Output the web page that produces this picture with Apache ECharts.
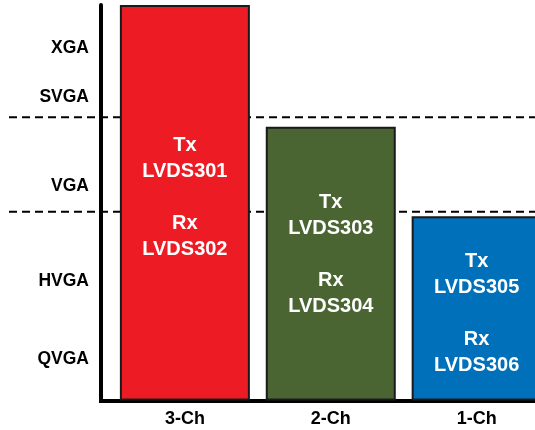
<!DOCTYPE html>
<html>
<head>
<meta charset="utf-8">
<script src="https://cdn.jsdelivr.net/npm/echarts@6/dist/echarts.min.js"></script>
<style>
html,body{margin:0;padding:0;background:#fff;}
#chart{width:535px;height:430px;}
</style>
</head>
<body>
<div id="chart"></div>
<script>
// ---- data ----
const categories = ['3-Ch', '2-Ch', '1-Ch'];
const barHeights = [100, 69.2, 46.6];
const txParts = ['LVDS301', 'LVDS303', 'LVDS305'];
const rxParts = ['LVDS302', 'LVDS304', 'LVDS306'];
const resolutionLabels = ['QVGA', 'HVGA', 'VGA', 'SVGA', 'XGA'];
const resolutionLevels = [10.5, 30.1, 54.1, 76.6, 89.0];
const dashedLevels = [71.6, 47.7];

// ---- styles ----
const barColors = ['#ED1C24', '#4A6532', '#0070BA'];
const labelShift = [-5, -9, 5];
const FONT = '"Liberation Sans", Arial, Helvetica, sans-serif';

const chart = echarts.init(document.getElementById('chart'), null, {renderer: 'canvas'});

const dashedSeries = dashedLevels.map(lvl => ({
  type: 'line',
  xAxisIndex: 0,
  yAxisIndex: 0,
  data: [[0, lvl], [1, lvl]],
  symbol: 'none',
  silent: true,
  z: 1,
  lineStyle: {color: '#000', width: 2, type: [8, 5]}
}));

const option = {
  animation: false,
  backgroundColor: '#fff',
  grid: [
    {left: 9, right: 0, top: 5, bottom: 29.5},
    {left: 101, right: 0, top: 5, bottom: 29.5}
  ],
  xAxis: [
    {gridIndex: 0, type: 'value', min: 0, max: 1, show: false},
    {
      gridIndex: 1, type: 'value', min: -0.575, max: 2.4,
      axisLine: {show: true, onZero: false, lineStyle: {color: '#000', width: 4, cap: 'square'}},
      axisTick: {show: false},
      splitLine: {show: false},
      axisLabel: {
        show: true,
        customValues: categories.map((c, i) => i),
        formatter: v => categories[Math.round(v)] || '',
        color: '#000', fontSize: 18, fontWeight: 'bold', fontFamily: FONT, margin: 10
      }
    }
  ],
  yAxis: [
    {gridIndex: 0, type: 'value', min: 0, max: 100, show: false},
    {
      gridIndex: 1, type: 'value', min: 0, max: 100,
      axisLine: {show: true, onZero: false, lineStyle: {color: '#000', width: 4}},
      axisTick: {show: false},
      splitLine: {show: false},
      axisLabel: {
        show: true,
        customValues: resolutionLevels,
        formatter: v => {
          const i = resolutionLevels.findIndex(r => Math.abs(r - v) < 0.01);
          return i >= 0 ? resolutionLabels[i] : '';
        },
        color: '#000', fontSize: 17.5, fontWeight: 'bold', fontFamily: FONT, margin: 12
      }
    }
  ],
  series: dashedSeries.concat([{
    type: 'bar',
    xAxisIndex: 1,
    yAxisIndex: 1,
    barWidth: 130,
    z: 2,
    data: categories.map((c, i) => ({
      value: [i, barHeights[i]],
      itemStyle: {color: barColors[i]},
      label: {offset: [0, labelShift[i]]}
    })),
    itemStyle: {borderColor: '#1a1a1a', borderWidth: 2},
    label: {
      show: true,
      position: 'inside',
      color: '#fff',
      fontSize: 20,
      fontWeight: 'bold',
      fontFamily: FONT,
      lineHeight: 26,
      formatter: p => 'Tx\n' + txParts[p.dataIndex] + '\n\nRx\n' + rxParts[p.dataIndex]
    }
  }])
};

chart.setOption(option);
</script>
</body>
</html>
